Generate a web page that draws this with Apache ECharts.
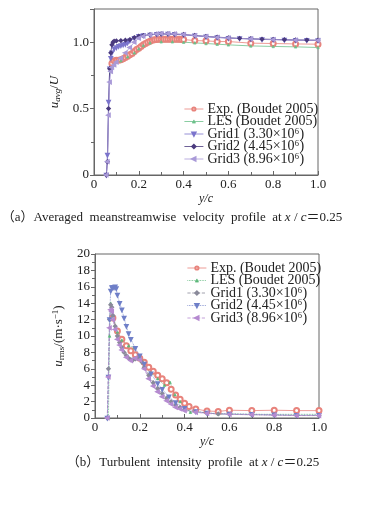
<!DOCTYPE html>
<html>
<head>
<meta charset="utf-8">
<script src="https://cdn.jsdelivr.net/npm/echarts@6/dist/echarts.min.js"></script>
<style>
  html, body { margin: 0; padding: 0; background: #fff; }
  #chart { width: 381px; height: 509px; }
</style>
</head>
<body>
<div id="chart"></div>
<script>
// legend names
const names = ['Exp. (Boudet 2005)', 'LES (Boudet 2005)', 'Grid1 (3.30×10⁶)', 'Grid2 (4.45×10⁶)', 'Grid3 (8.96×10⁶)'];

// (a) averaged velocity, [y/c, u_avg/U]
const expA = [[0.08,0.84],[0.09,0.86],[0.10,0.865],[0.11,0.865],[0.12,0.868],[0.13,0.875],[0.14,0.885],[0.15,0.895],[0.16,0.905],[0.17,0.915],[0.18,0.93],[0.19,0.945],[0.20,0.955],[0.21,0.968],[0.22,0.98],[0.23,0.99],[0.24,1.0],[0.25,1.008],[0.26,1.014],[0.27,1.018],[0.28,1.021],[0.29,1.022],[0.30,1.023],[0.31,1.023],[0.32,1.023],[0.33,1.023],[0.34,1.023],[0.35,1.023],[0.36,1.022],[0.37,1.022],[0.38,1.022],[0.39,1.021],[0.40,1.02],[0.45,1.012],[0.50,1.01],[0.55,1.005],[0.60,1.005],[0.70,0.993],[0.80,0.99],[0.90,0.987],[1.0,0.985]];
const lesA = [[0.075,0.78],[0.09,0.83],[0.12,0.86],[0.15,0.89],[0.18,0.92],[0.20,0.95],[0.22,0.975],[0.25,0.995],[0.30,1.003],[0.35,1.003],[0.40,1.0],[0.45,0.995],[0.50,0.99],[0.55,0.985],[0.60,0.98],[0.70,0.972],[0.80,0.968],[0.90,0.965],[1.0,0.96]];
const grid1A = [[0.055,0],[0.06,0.15],[0.065,0.55],[0.07,0.8],[0.075,0.88],[0.08,0.92],[0.09,0.95],[0.10,0.96],[0.11,0.97],[0.12,0.975],[0.13,0.98],[0.14,0.985],[0.15,0.995],[0.16,1.01],[0.18,1.03],[0.20,1.045],[0.22,1.05],[0.25,1.055],[0.28,1.06],[0.30,1.061],[0.33,1.061],[0.36,1.059],[0.40,1.055],[0.45,1.048],[0.50,1.041],[0.55,1.035],[0.60,1.03],[0.65,1.027],[0.70,1.024],[0.75,1.021],[0.80,1.019],[0.85,1.017],[0.90,1.015],[0.95,1.014],[1.0,1.013]];
const grid2A = [[0.055,0],[0.06,0.1],[0.065,0.5],[0.07,0.8],[0.075,0.92],[0.08,0.98],[0.085,1.0],[0.09,1.008],[0.10,1.01],[0.12,1.012],[0.14,1.015],[0.16,1.02],[0.18,1.035],[0.20,1.045],[0.22,1.05],[0.25,1.056],[0.28,1.061],[0.30,1.063],[0.33,1.063],[0.36,1.061],[0.40,1.058],[0.45,1.051],[0.50,1.044],[0.55,1.038],[0.60,1.033],[0.65,1.029],[0.70,1.026],[0.75,1.023],[0.80,1.021],[0.85,1.019],[0.90,1.017],[0.95,1.016],[1.0,1.015]];
const grid3A = [[0.055,0],[0.06,0.1],[0.065,0.45],[0.07,0.7],[0.075,0.78],[0.08,0.81],[0.09,0.83],[0.10,0.85],[0.12,0.88],[0.14,0.92],[0.16,0.96],[0.18,1.0],[0.20,1.03],[0.22,1.045],[0.25,1.055],[0.28,1.062],[0.30,1.065],[0.33,1.064],[0.36,1.062],[0.40,1.058],[0.45,1.05],[0.50,1.043],[0.55,1.037],[0.60,1.032],[0.70,1.025],[0.80,1.02],[0.90,1.016],[1.0,1.014]];

// (b) turbulent intensity, [y/c, u_rms]
const expB = [[0.08,12.2],[0.10,10.6],[0.12,9.6],[0.14,8.8],[0.16,8.2],[0.18,7.7],[0.20,7.3],[0.22,6.8],[0.24,6.2],[0.26,5.7],[0.28,5.2],[0.30,4.8],[0.32,4.3],[0.34,3.5],[0.36,2.8],[0.38,2.3],[0.40,1.8],[0.42,1.4],[0.45,1.1],[0.50,0.85],[0.55,0.8],[0.60,0.95],[0.70,0.9],[0.80,0.95],[0.90,0.9],[1.0,0.9]];
const lesB = [[0.06,0],[0.065,10],[0.07,14],[0.08,12.5],[0.10,10.5],[0.12,9.5],[0.15,8.8],[0.175,8.6],[0.20,7.2],[0.22,6.3],[0.25,5.5],[0.28,4.8],[0.31,4.0],[0.335,4.35],[0.357,2.85],[0.38,2.0],[0.40,1.3],[0.426,0.7],[0.45,0.8],[0.50,0.6],[0.55,0.5],[0.60,0.5],[0.70,0.45],[0.80,0.45],[0.90,0.45],[1.0,0.45]];
const grid1B = [[0.055,0],[0.06,6],[0.065,12],[0.07,13.8],[0.075,13.5],[0.08,12.5],[0.09,11.2],[0.10,10.0],[0.11,9.2],[0.12,8.6],[0.13,8.0],[0.14,7.6],[0.15,7.3],[0.16,7.1],[0.17,7.1],[0.18,7.2],[0.19,7.3],[0.20,7.2],[0.21,6.8],[0.22,6.2],[0.24,5.2],[0.26,4.3],[0.28,3.6],[0.30,3.0],[0.32,2.4],[0.34,2.0],[0.36,1.6],[0.38,1.3],[0.40,1.0],[0.45,0.75],[0.50,0.6],[0.55,0.5],[0.60,0.45],[0.70,0.4],[0.80,0.35],[0.90,0.3],[1.0,0.3]];
const grid2B = [[0.055,0],[0.06,5],[0.065,12],[0.07,15.5],[0.075,15.9],[0.08,15.9],[0.085,15.9],[0.09,16.0],[0.095,15.8],[0.10,15.0],[0.11,14.0],[0.12,13.2],[0.13,12.2],[0.14,11.2],[0.15,10.3],[0.16,9.6],[0.18,8.5],[0.20,7.6],[0.22,6.6],[0.25,5.4],[0.28,4.2],[0.30,3.5],[0.33,2.6],[0.36,1.9],[0.40,1.2],[0.45,0.8],[0.50,0.6],[0.60,0.5],[0.70,0.45],[0.80,0.4],[0.90,0.35],[1.0,0.35]];
const grid3B = [[0.055,0],[0.06,5],[0.065,11],[0.07,13.2],[0.075,13.0],[0.08,12.0],[0.09,10.8],[0.10,9.6],[0.11,8.9],[0.12,8.3],[0.14,7.4],[0.16,7.0],[0.18,7.3],[0.20,7.1],[0.22,6.0],[0.24,4.8],[0.26,3.9],[0.28,3.2],[0.30,2.6],[0.32,2.1],[0.34,1.7],[0.36,1.3],[0.38,1.1],[0.40,0.9],[0.45,0.7],[0.50,0.55],[0.60,0.45],[0.70,0.4],[0.80,0.35],[0.90,0.3],[1.0,0.3]];

const serif = '"Liberation Serif", "DejaVu Serif", serif';
const axisColor = '#666';
const txt = '#222';

function xAxisFor(gi) {
    return {
        gridIndex: gi, type: 'value', min: 0, max: 1, interval: 0.2,
        name: 'y/c', nameLocation: 'middle', nameGap: 18,
        nameTextStyle: { fontFamily: serif, fontStyle: 'italic', fontSize: 12, color: txt },
        axisLine: { lineStyle: { color: axisColor } },
        axisTick: { inside: true, length: 4, lineStyle: { color: axisColor } },
        minorTick: { show: true, splitNumber: 2, length: 3, lineStyle: { color: axisColor } },
        splitLine: { show: false },
        axisLabel: { fontFamily: serif, fontSize: 13, color: txt, margin: 3,
            formatter: v => v === 0 ? '0' : v.toFixed(1) }
    };
}

function line(name, data, gi, color, symbol, size, rot, type, w) {
    return {
        name: name, type: 'line', xAxisIndex: gi, yAxisIndex: gi, data: data,
        symbol: symbol, symbolSize: size, symbolRotate: rot, showAllSymbol: true,
        lineStyle: { color: color, width: w || 0.8, type: type || 'solid' },
        itemStyle: { color: color, borderColor: color, borderWidth: 0.7 },
        emphasis: { disabled: true }, silent: true
    };
}

// series names in (b) get a trailing space so each legend reads its own chart
const nB = names.map(n => n + ' ');

const legendBase = {
    orient: 'vertical', itemWidth: 19, itemHeight: 4, itemGap: -1.5, padding: 0,
    textStyle: { fontFamily: serif, fontSize: 14, lineHeight: 12.5, color: txt, padding: [0, 0, 0, -1] },
    lineStyle: { width: 0.8 },
    itemStyle: { borderWidth: 0.7 },
    selectedMode: false
};

const capRich = {
    n: { fontFamily: serif + ', "Noto Sans CJK SC"', fontSize: 13, fontWeight: 'normal', color: txt },
    i: { fontFamily: serif, fontStyle: 'italic', fontSize: 13, fontWeight: 'normal', color: txt }
};

const option = {
    animation: false,
    backgroundColor: '#fff',
    title: [
        { text: '{n|（a）Averaged  meanstreamwise  velocity  profile  at }{i|x}{n| / }{i|c}{n|＝0.25}',
          left: 167, top: 206, textAlign: 'center',
          textStyle: { fontWeight: 'normal', rich: capRich } },
        { text: '{n|（b）Turbulent  intensity  profile  at }{i|x}{n| / }{i|c}{n|＝0.25}',
          left: 188, top: 451, textAlign: 'center',
          textStyle: { fontWeight: 'normal', rich: capRich } }
    ],
    legend: [
        Object.assign({ left: 184, top: 102, data: names }, legendBase),
        Object.assign({ left: 187, top: 261, data: nB }, legendBase)
    ],
    grid: [
        { left: 94, right: 63, top: 9, height: 166, show: true, borderColor: axisColor, borderWidth: 1, backgroundColor: 'transparent' },
        { left: 95, right: 62, top: 254, height: 164, show: true, borderColor: axisColor, borderWidth: 1, backgroundColor: 'transparent' }
    ],
    xAxis: [xAxisFor(0), xAxisFor(1)],
    yAxis: [
        { gridIndex: 0, type: 'value', min: 0, max: 1.25, interval: 0.5,
          name: '{i|u}{s|avg}{n|/}{i|U}', nameLocation: 'middle', nameGap: 26, nameRotate: 90,
          nameTextStyle: { rich: {
              i: { fontFamily: serif, fontStyle: 'italic', fontSize: 13, color: txt },
              n: { fontFamily: serif, fontSize: 13, color: txt },
              s: { fontFamily: serif, fontStyle: 'italic', fontSize: 9, color: txt, verticalAlign: 'bottom', padding: [6, 0, 0, 0] } } },
          axisLine: { lineStyle: { color: axisColor } },
          axisTick: { inside: false, length: 4, lineStyle: { color: axisColor } },
          minorTick: { show: true, splitNumber: 2, length: 3, lineStyle: { color: axisColor } },
          splitLine: { show: false },
          axisLabel: { fontFamily: serif, fontSize: 13, color: txt, margin: 5,
              formatter: v => v === 0 ? '0' : (Math.abs(v * 2 - Math.round(v * 2)) < 1e-6 ? v.toFixed(1) : '') } },
        { gridIndex: 1, type: 'value', min: 0, max: 20, interval: 2,
          name: '{i|u}{s|rms}{n|/(m·s}{p|−1}{n|)}', nameLocation: 'middle', nameGap: 24, nameRotate: 90,
          nameTextStyle: { rich: {
              i: { fontFamily: serif, fontStyle: 'italic', fontSize: 13, color: txt },
              n: { fontFamily: serif, fontSize: 13, color: txt },
              s: { fontFamily: serif, fontSize: 9, color: txt, padding: [6, 0, 0, 0] },
              p: { fontFamily: serif, fontSize: 9, color: txt, padding: [0, 0, 6, 0] } } },
          axisLine: { lineStyle: { color: axisColor } },
          axisTick: { inside: false, length: 4, lineStyle: { color: axisColor } },
          minorTick: { show: true, splitNumber: 2, length: 3, lineStyle: { color: axisColor } },
          splitLine: { show: false },
          axisLabel: { fontFamily: serif, fontSize: 13, color: txt, margin: 5 } }
    ],
    series: [
        line(names[0], expA, 0, '#e8837c', 'emptyCircle', 5, 0),
        line(names[1], lesA, 0, '#6cc08a', 'triangle', 2.5, 0),
        line(names[2], grid1A, 0, '#7b74cc', 'emptyTriangle', 2.5, 180),
        line(names[3], grid2A, 0, '#4a3a7e', 'emptyDiamond', 2.5, 0),
        line(names[4], grid3A, 0, '#a99ad8', 'emptyTriangle', 2.5, 90),
        line(nB[0], expB, 1, '#e8837c', 'emptyCircle', 5, 0),
        line(nB[1], lesB, 1, '#5cb87a', 'triangle', 2.5, 0, 'dotted'),
        line(nB[2], grid1B, 1, '#8a8a9a', 'emptyDiamond', 2.5, 0, 'dashed'),
        line(nB[3], grid2B, 1, '#6f7fc8', 'emptyTriangle', 2.5, 180, 'dotted'),
        line(nB[4], grid3B, 1, '#b58ad0', 'emptyTriangle', 2.5, 90, 'dashed')
    ]
};

const chart = echarts.init(document.getElementById('chart'));
chart.setOption(option);
</script>
</body>
</html>
